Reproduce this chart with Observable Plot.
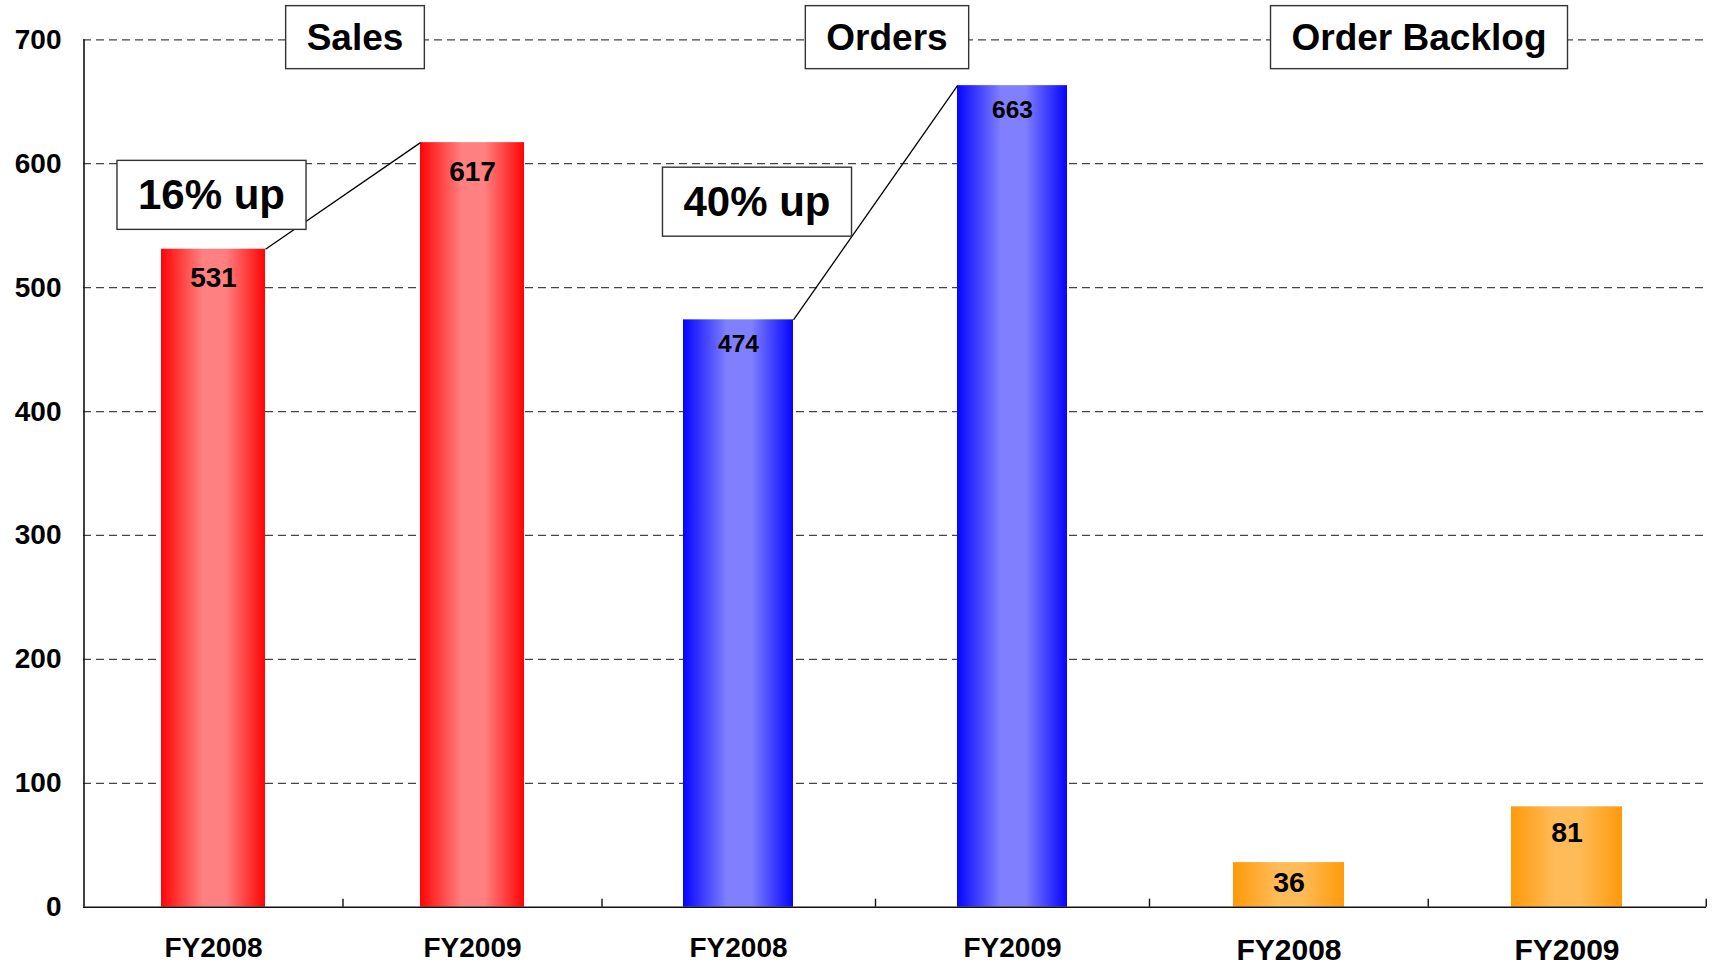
<!DOCTYPE html>
<html>
<head>
<meta charset="utf-8">
<script src="https://cdn.jsdelivr.net/npm/d3@7"></script>
<script src="https://cdn.jsdelivr.net/npm/@observablehq/plot@0.6"></script>
<style>
  html, body { margin: 0; padding: 0; background: #fff; }
  #chart { position: relative; width: 1713px; height: 965px; overflow: hidden; }
  #chart svg { position: absolute; top: 0; overflow: visible; }
</style>
</head>
<body>
<div id="chart"></div>
<script>
// Fiscal-year results, three groups side by side
const years = ["FY2008", "FY2009"];
const groups = ["Sales", "Orders", "Order Backlog"];
const sales = [531, 617];
const orders = [474, 663];
const backlog = [36, 81];
const yTicks = [0, 100, 200, 300, 400, 500, 600, 700];

const H = 965, MT = 39.3, MB = 58.3;
const unitsPerPx = (yTicks[yTicks.length - 1] - yTicks[0]) / (H - MT - MB);

const panels = [
  {title: groups[0], values: sales, left: 0, width: 601, ml: 83, mr: 0,
   id: "gradSales", edge: "#ff0505", light: "#ff8080",
   valueSize: 28, valueDy: [29, 29], yearSize: 28, yearDy: 40.5, titleDx: 12.5,
   growth: true, growthDx: -2, yAxis: true},
  {title: groups[1], values: orders, left: 601, width: 548, ml: 0, mr: 0,
   id: "gradOrders", edge: "#0505ff", light: "#8080ff",
   valueSize: 24.5, valueDy: [24, 24.5], yearSize: 28, yearDy: 40.5, titleDx: 11.5,
   growth: true, growthDx: 18.5},
  {title: groups[2], values: backlog, left: 1149, width: 564, ml: 0, mr: 7,
   id: "gradBacklog", edge: "#ff9a0a", light: "#ffbb58",
   valueSize: 28.5, valueDy: [20, 26], yearSize: 30, yearDy: 43.5, titleDx: -9}
];

// draws a white framed box behind every text of the marks tagged "boxed"
function frameBoxes(svg) {
  const padX = 21, padY = 11;
  d3.select(svg).selectAll('g[aria-description="boxed"] text').each(function () {
    const b = this.getBBox();
    const text = this;
    d3.select(this.parentNode).insert("rect", () => text)
      .attr("transform", this.getAttribute("transform"))
      .attr("x", b.x - padX).attr("y", b.y - padY)
      .attr("width", b.width + 2 * padX).attr("height", b.height + 2 * padY)
      .attr("fill", "#fff").attr("stroke", "#333").attr("stroke-width", 1.4);
  });
}

const chart = document.getElementById("chart");

for (const p of panels) {
  const rows = years.map((year, i) => ({year, value: p.values[i], i}));
  const step = (p.width - p.ml - p.mr) / years.length;

  const gradient = () => {
    const defs = d3.create("svg:defs");
    const g = defs.append("linearGradient").attr("id", p.id)
      .attr("x1", 0).attr("x2", 1).attr("y1", 0).attr("y2", 0);
    [[0, p.edge], [0.4, p.light], [0.62, p.light], [1, p.edge]].forEach(([o, c]) =>
      g.append("stop").attr("offset", o).attr("stop-color", c));
    return defs.node();
  };

  const marks = [
    gradient,
    Plot.ruleY(yTicks.slice(1), {stroke: "#444", strokeWidth: 1.2, strokeDasharray: "8,5"}),
    Plot.barY(rows, {x: "year", y: "value", fill: `url(#${p.id})`}),
    Plot.ruleY([0], {stroke: "#111", strokeWidth: 1.6}),
    Plot.ruleX(years, {x: d => d, y1: 0, y2: 8 * unitsPerPx, dx: step / 2, stroke: "#111", strokeWidth: 1.4}),
    ...rows.map(r =>
      Plot.text([r], {x: "year", y: "value", text: d => String(d.value), dy: p.valueDy[r.i], fontSize: p.valueSize})),
    Plot.text(years, {x: d => d, frameAnchor: "bottom", lineAnchor: "middle", text: d => d, dy: p.yearDy, fontSize: p.yearSize})
  ];

  if (p.yAxis) {
    marks.push(
      Plot.ruleX([years[0]], {x: d => d, y1: yTicks[0], y2: yTicks[yTicks.length - 1], dx: -step / 2, stroke: "#111", strokeWidth: 1.6}),
      Plot.axisY({ticks: yTicks, tickSize: 0, tickPadding: 22, fontSize: 28, fontWeight: "bold"})
    );
  }

  if (p.growth) {
    const pair = [{a: p.values[0], b: p.values[1]}];
    marks.push(
      // connector from the top-right corner of the first bar to the top-left corner of the second
      Plot.link(pair, {
        x1: () => years[0], x2: () => years[1], y1: "a", y2: "b",
        stroke: "#000", strokeWidth: 1.3,
        render: (I, s, v, d, c, next) => {
          const h = s.x.bandwidth() / 2;
          return next(I, s, {...v, x1: Array.from(v.x1, x => x + h), x2: Array.from(v.x2, x => x - h)}, d, c);
        }
      }),
      Plot.text(pair, {
        x: () => years[0], y: d => (d.a + d.b) / 2,
        text: d => `${Math.round((d.b / d.a - 1) * 100)}% up`,
        fontSize: 42, dx: p.growthDx, ariaDescription: "boxed"
      })
    );
  }

  marks.push(
    Plot.text([p.title], {frameAnchor: "top", lineAnchor: "middle", text: d => d, fontSize: 37, dx: p.titleDx, dy: -2, ariaDescription: "boxed"})
  );

  const svg = Plot.plot({
    width: p.width,
    height: H,
    marginTop: MT,
    marginBottom: MB,
    marginLeft: p.ml,
    marginRight: p.mr,
    x: {domain: years, paddingInner: 0.6, paddingOuter: 0.3, axis: null},
    y: {domain: [yTicks[0], yTicks[yTicks.length - 1]], axis: null, label: null},
    style: {
      fontFamily: '"Liberation Sans", Arial, sans-serif',
      fontWeight: "bold",
      fontSize: "28px",
      color: "#000",
      background: "transparent",
      overflow: "visible"
    },
    marks
  });
  svg.style.left = p.left + "px";
  chart.appendChild(svg);
  frameBoxes(svg);
}
</script>
</body>
</html>
